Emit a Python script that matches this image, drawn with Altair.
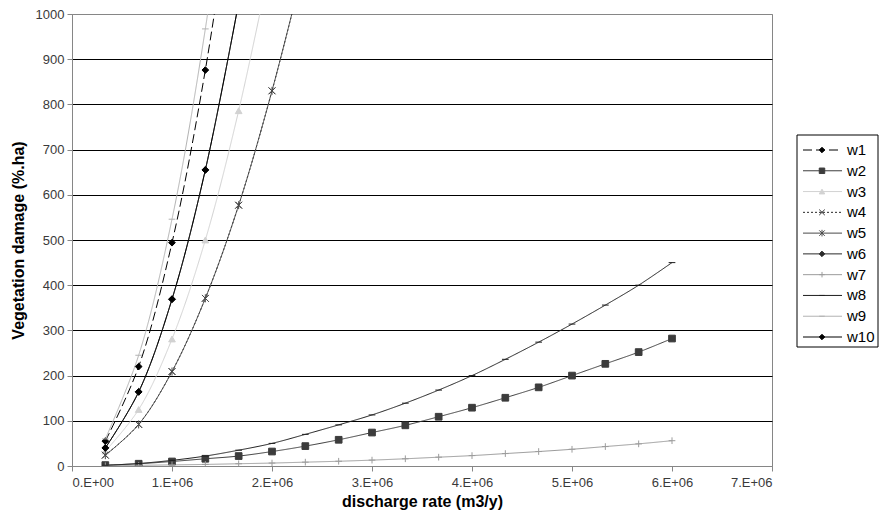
import altair as alt
import pandas as pd

# discharge rate (m3/y) sample points
x_vals = [333333, 666667, 1000000, 1333333, 1666667, 2000000, 2333333, 2666667, 3000000,
          3333333, 3666667, 4000000, 4333333, 4666667, 5000000, 5333333, 5666667, 6000000]

series = ["w1", "w2", "w3", "w4", "w5", "w6", "w7", "w8", "w9", "w10"]

w1 = [55, 220, 494, 876, 1370]
w2 = [2, 5, 10, 16, 22, 32, 44, 58, 74, 90, 109, 129, 151, 174, 200, 226, 252, 282]
w3 = [33, 125, 281, 500, 786, 1130]
w4 = [24, 92, 209, 371, 577, 830, 1120]
w5 = [24, 92, 209, 371, 577, 830, 1120]
w6 = [40, 164, 369, 655, 1025]
w7 = [0.5, 1.5, 2.5, 3.5, 5, 6.5, 8.5, 10.5, 13, 16, 19.5, 23, 27.5, 32, 37, 43, 49, 56]
w8 = [1.5, 5.5, 12.5, 22, 35, 50, 70, 91, 113, 139, 168, 200, 236, 274, 314, 356, 400, 450]
w9 = [60, 245, 546, 967, 1510]
w10 = [40, 164, 369, 655, 1025]

values = [w1, w2, w3, w4, w5, w6, w7, w8, w9, w10]

y_ticks = [0, 100, 200, 300, 400, 500, 600, 700, 800, 900, 1000]
x_ticks = [0, 1000000, 2000000, 3000000, 4000000, 5000000, 6000000, 7000000]

colors = ["#000000", "#3c3c3c", "#d2d2d2", "#2a2a2a", "#4a4a4a",
          "#2a2a2a", "#9c9c9c", "#1e1e1e", "#b2b2b2", "#000000"]
dashes = [[9, 4], [1, 0], [1, 0], [2, 2], [1, 0], [1, 0], [1, 0], [1, 0], [1, 0], [1, 0]]
X_PATH = "M-1,-1L1,1M1,-1L-1,1"
AST_PATH = "M-1,-1L1,1M1,-1L-1,1M0,-1.2L0,1.2"
PLUS_PATH = "M-1,0L1,0M0,-1L0,1"
DASH_PATH = "M-1,0L1,0"
shapes = ["diamond", "square", "triangle-up", X_PATH, AST_PATH,
          "diamond", PLUS_PATH, DASH_PATH, DASH_PATH, "diamond"]

rows = []
for s, vals in zip(series, values):
    for xv, yv in zip(x_vals, vals):
        rows.append({"series": s, "x": xv, "y": yv})
df = pd.DataFrame(rows)
legend_df = pd.DataFrame({"series": series})

FONT = "Liberation Sans"
color_scale = alt.Scale(domain=series, range=colors)
dash_scale = alt.Scale(domain=series, range=dashes)
shape_scale = alt.Scale(domain=series, range=shapes)

x_enc = alt.X("x:Q", scale=alt.Scale(domain=[0, 7000000], nice=False),
              axis=alt.Axis(values=x_ticks,
                            labelExpr="datum.value == 0 ? '0.E+00' : format(datum.value/1000000, 'd') + '.E+06'",
                            grid=False, domainColor="#868686", tickColor="#868686", tickSize=5,
                            labelFont=FONT, labelFontSize=13, labelColor="#3a3a3a", labelPadding=5,
                            title="discharge rate (m3/y)", titleFont=FONT, titleFontSize=16,
                            titleFontWeight="bold", titleColor="#000000",
                            titleX=350, titleY=35, titleAlign="center", titleBaseline="middle"))
y_enc = alt.Y("y:Q", scale=alt.Scale(domain=[0, 1000], nice=False),
              axis=alt.Axis(values=y_ticks, format="d",
                            grid=True,
                            gridColor={"condition": {"test": "datum.value === 0 || datum.value === 1000",
                                                     "value": "#868686"}, "value": "#000000"},
                            gridWidth=1, domainColor="#868686", tickColor="#868686", tickSize=5,
                            labelFont=FONT, labelFontSize=13, labelColor="#3a3a3a", labelPadding=3,
                            title="Vegetation damage (%.ha)", titleFont=FONT, titleFontSize=16,
                            titleFontWeight="bold", titleColor="#000000", titleAngle=-90,
                            titleX=-54, titleY=226, titleAlign="center", titleBaseline="middle"))

base = alt.Chart(df)
lines = base.mark_line(strokeWidth=1, interpolate="catmull-rom", clip=True).encode(
    x=x_enc, y=y_enc,
    color=alt.Color("series:N", scale=color_scale, legend=None),
    strokeDash=alt.StrokeDash("series:N", scale=dash_scale, legend=None),
    detail="series:N",
)
points = base.mark_point(filled=True, size=45, strokeWidth=1, opacity=1, clip=True).encode(
    x="x:Q", y="y:Q",
    fill=alt.Fill("series:N", scale=color_scale, legend=None),
    stroke=alt.Stroke("series:N", scale=color_scale, legend=None),
    shape=alt.Shape("series:N", scale=shape_scale, legend=None),
)
main = alt.layer(lines, points)

# custom legend
ly = alt.Y("series:N", scale=alt.Scale(type="point", domain=series, range=[136, 323], padding=0), axis=None)
lbase = alt.Chart(legend_df)
lbox = alt.Chart(pd.DataFrame({"k": [0]})).mark_rect(fill="white", stroke="#000000", strokeWidth=1).encode(
    x=alt.value(725), x2=alt.value(806), y=alt.value(121), y2=alt.value(333))
lrule = lbase.mark_rule(strokeWidth=1).encode(
    x=alt.value(731), x2=alt.value(770), y=ly,
    color=alt.Color("series:N", scale=color_scale, legend=None),
    strokeDash=alt.StrokeDash("series:N", scale=dash_scale, legend=None))
lpoint = lbase.mark_point(filled=True, size=30, strokeWidth=1, opacity=1).encode(
    x=alt.value(750), y=ly,
    fill=alt.Fill("series:N", scale=color_scale, legend=None),
    stroke=alt.Stroke("series:N", scale=color_scale, legend=None),
    shape=alt.Shape("series:N", scale=shape_scale, legend=None))
ltext = lbase.mark_text(align="left", baseline="middle", font=FONT, fontSize=15, color="#000000").encode(
    x=alt.value(775), y=ly, text="series:N")
legend = alt.layer(lbox, lrule, lpoint, ltext)

chart = alt.layer(main, legend).resolve_scale(y="independent").properties(
    width=700, height=452,
    autosize=alt.AutoSizeParams(type="none"),
    padding={"left": 72, "top": 14, "right": 108, "bottom": 58},
    background="white",
).configure_view(stroke="#868686", strokeWidth=1)

chart.save("out.html", embed_options={"renderer": "svg", "actions": False})
